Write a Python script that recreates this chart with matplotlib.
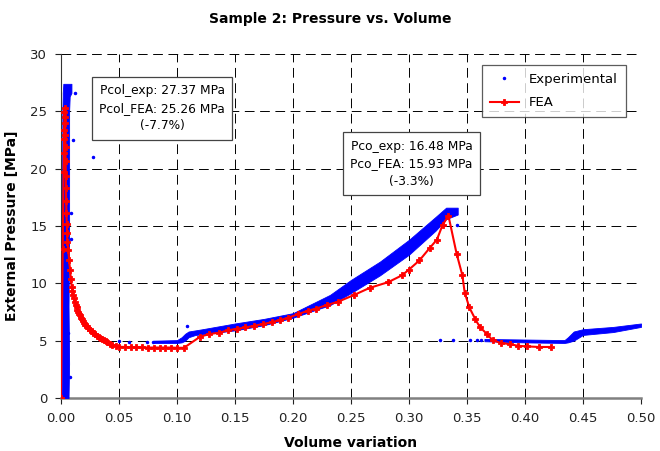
import matplotlib
matplotlib.use("Agg")
import matplotlib.pyplot as plt

plt.rcParams['font.family'] = ['DejaVu Sans']
plt.rcParams['lines.scale_dashes'] = False

# experimental: vertical spike at start (pressure, left/right volume edge)
spk_p = [0.0, 3.0, 8.0, 14.0, 20.0, 25.0, 26.3, 26.6, 27.4]
spk_lo = [0.0005, 0.0008, 0.0005, 0.0008, 0.001, 0.0012, 0.0015, 0.0015, 0.002]
spk_hi = [0.0065, 0.007, 0.0065, 0.007, 0.007, 0.007, 0.0075, 0.009, 0.009]

# experimental: propagation band (volume, lower, upper pressure)
exp_v1 = [0.080, 0.100, 0.104, 0.107, 0.110, 0.116, 0.122, 0.150, 0.175, 0.200,
          0.220, 0.232, 0.250, 0.275, 0.300, 0.323, 0.332, 0.342]
exp_lo1 = [4.8, 4.8, 4.85, 5.0, 5.3, 5.5, 5.55, 5.9, 6.35, 7.0,
           7.7, 8.1, 9.15, 10.7, 12.5, 14.6, 15.6, 16.0]
exp_hi1 = [5.0, 5.05, 5.3, 5.6, 5.8, 5.9, 6.0, 6.5, 6.9, 7.4,
           8.4, 9.0, 10.3, 11.9, 13.8, 15.8, 16.6, 16.6]

exp_v2 = [0.365, 0.400, 0.434, 0.437, 0.442, 0.450, 0.476, 0.500]
exp_lo2 = [4.95, 4.85, 4.8, 4.85, 5.0, 5.5, 5.75, 6.2]
exp_hi2 = [5.15, 5.1, 5.05, 5.3, 5.8, 6.0, 6.2, 6.5]

# scattered experimental points
str_v = [0.012, 0.010, 0.009, 0.0084, 0.006, 0.0078, 0.028, 0.050, 0.059, 0.074,
         0.079, 0.109, 0.341, 0.327, 0.338, 0.353, 0.359, 0.362]
str_p = [26.6, 22.5, 16.1, 13.9, 5.7, 1.8, 21.0, 4.95, 4.9, 4.9,
         4.9, 6.3, 15.1, 5.1, 5.1, 5.1, 5.1, 5.1]

# FEA curve
fea_v = [0.000, 0.0015, 0.0022, 0.0025, 0.0027, 0.0028, 0.0030, 0.0032,
         0.0035, 0.0036, 0.0038, 0.0039, 0.0040, 0.0042, 0.0043, 0.0045, 0.0047,
         0.0050, 0.0052, 0.0055, 0.0063, 0.0070, 0.0078, 0.0085, 0.0092, 0.0098,
         0.0105, 0.0112, 0.0120, 0.0128, 0.0135, 0.0142, 0.0150, 0.0157, 0.0164,
         0.0172, 0.0180, 0.0190, 0.0200, 0.0210, 0.0220, 0.0235, 0.0250, 0.0265,
         0.0280, 0.0295, 0.0310, 0.0325, 0.0340, 0.0355, 0.0370, 0.0385, 0.0400,
         0.0420, 0.0440, 0.0470, 0.0500, 0.0550, 0.0600, 0.0650, 0.0700, 0.0750,
         0.0800, 0.0850, 0.0900, 0.0950, 0.1000, 0.1060, 0.1200, 0.1280, 0.1365,
         0.1440, 0.1520, 0.1590, 0.1667, 0.1740, 0.1815, 0.1890, 0.1960, 0.2040,
         0.2126, 0.2200, 0.2290, 0.2390, 0.2530, 0.2660, 0.2820, 0.2940, 0.3000,
         0.3090, 0.3180, 0.3240, 0.3290, 0.3340, 0.3410, 0.3460, 0.3480, 0.3520,
         0.3570, 0.3610, 0.3670, 0.3720, 0.3790, 0.3870, 0.3940, 0.4020, 0.4120,
         0.4220]
fea_p = [0.0, 13.0, 19.7, 21.4, 22.6, 23.4, 24.9, 25.3,
         24.5, 24.0, 22.9, 21.9, 20.7, 19.4, 18.3, 17.2, 16.1,
         15.2, 14.4, 13.6, 12.9, 12.0, 11.2, 10.4, 9.7, 9.3,
         9.0, 8.7, 8.4, 8.1, 7.9, 7.7, 7.5, 7.35, 7.2,
         7.0, 6.85, 6.7, 6.55, 6.4, 6.25, 6.1, 5.95, 5.82,
         5.7, 5.57, 5.45, 5.35, 5.25, 5.15, 5.05, 4.95, 4.85,
         4.75, 4.65, 4.55, 4.47, 4.45, 4.43, 4.42, 4.41, 4.4,
         4.4, 4.4, 4.4, 4.4, 4.38, 4.38, 5.35, 5.58, 5.7,
         5.9, 6.05, 6.15, 6.3, 6.45, 6.6, 6.8, 7.0, 7.3,
         7.6, 7.8, 8.1, 8.4, 9.0, 9.6, 10.1, 10.7, 11.2,
         12.0, 13.1, 13.8, 15.1, 15.9, 12.6, 10.7, 9.2, 7.9,
         6.9, 6.2, 5.6, 5.05, 4.8, 4.7, 4.55, 4.5, 4.45,
         4.45]

fig = plt.figure(figsize=(6.6, 4.51), dpi=100)
ax = fig.add_axes([61/660, 1 - 398/451, 580/660, 344/451])

blue = '#0000ff'
ax.fill_betweenx(spk_p, spk_lo, spk_hi, color=blue, lw=0.6, zorder=3)
ax.fill_between(exp_v1, exp_lo1, exp_hi1, color=blue, lw=0.6, zorder=3)
ax.fill_between(exp_v2, exp_lo2, exp_hi2, color=blue, lw=0.6, zorder=3)
ax.plot(str_v, str_p, ls='none', marker='.', ms=3, color=blue, zorder=3,
        label='Experimental')
ax.plot(fea_v, fea_p, color='#ff0000', lw=1.5, marker='P', ms=4.8, mew=0.6,
        mec='#ff0000', zorder=4, label='FEA')

ax.set_xlim(0, 0.5)
ax.set_ylim(0, 30)
ax.set_xticks([i * 0.05 for i in range(11)])
ax.set_yticks(range(0, 31, 5))
ax.xaxis.set_major_formatter(matplotlib.ticker.FormatStrFormatter('%.2f'))
ax.tick_params(labelsize=9.5, length=4, width=0.8, colors='#222222', pad=6)
ax.grid(True, color='black', lw=0.7, linestyle=(0, (7, 4)))
ax.set_axisbelow(True)

for s in ['top', 'right']:
    ax.spines[s].set_visible(False)
ax.spines['left'].set_color('#333333')
ax.spines['bottom'].set_color('#808080')
ax.spines['bottom'].set_linewidth(1.8)

ax.set_xlabel('Volume variation', fontsize=10, fontweight='bold', labelpad=8)
ax.set_ylabel('External Pressure [MPa]', fontsize=10, fontweight='bold', labelpad=8)
fig.text(0.5, 1 - 19/451, 'Sample 2: Pressure vs. Volume', ha='center', va='center',
         fontsize=10, fontweight='bold')

leg = ax.legend(loc='upper right', bbox_to_anchor=(0.974, 0.968), borderaxespad=0,
                fontsize=9.5, frameon=True, fancybox=False, handlelength=2.2,
                borderpad=0.6, labelspacing=0.8, markerscale=1.0)
leg.get_frame().set_edgecolor('#333333')
leg.get_frame().set_linewidth(0.9)

box = dict(boxstyle='square,pad=0.6', fc='white', ec='#444444', lw=0.9)
ax.text(0.0871, 25.25, 'Pcol_exp: 27.37 MPa\nPcol_FEA: 25.26 MPa\n(-7.7%)',
        ha='center', va='center', multialignment='center', fontsize=8.8,
        linespacing=1.45, bbox=box, zorder=5)
ax.text(0.3022, 20.45, 'Pco_exp: 16.48 MPa\nPco_FEA: 15.93 MPa\n(-3.3%)',
        ha='center', va='center', multialignment='center', fontsize=8.8,
        linespacing=1.45, bbox=box, zorder=5)

fig.savefig('out.png', dpi=100)
